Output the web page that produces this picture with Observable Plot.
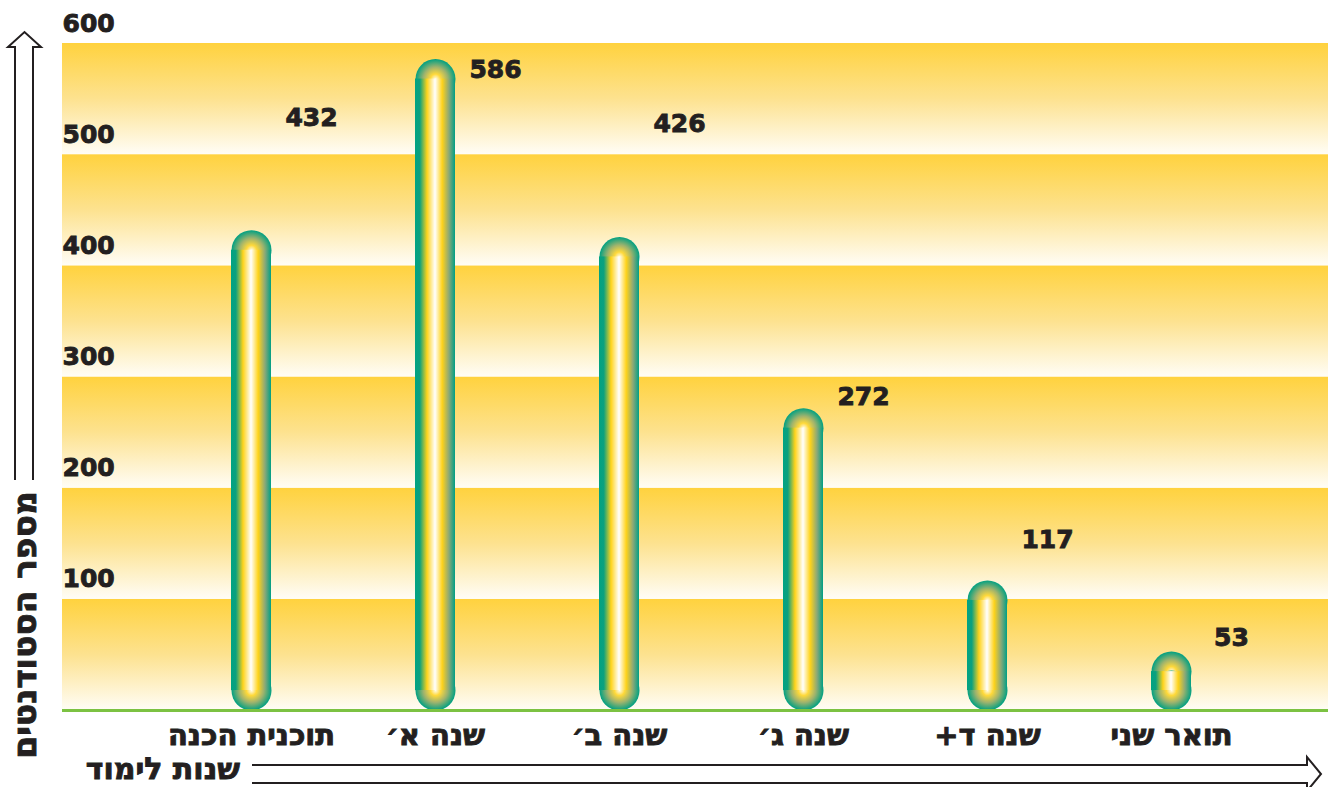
<!DOCTYPE html>
<html><head><meta charset="utf-8">
<script src="https://cdn.jsdelivr.net/npm/d3@7"></script>
<script src="https://cdn.jsdelivr.net/npm/@observablehq/plot@0.6"></script>
<style>
html,body{margin:0;padding:0;background:#fff;}
#chart svg{display:block;}
#chart svg text{stroke:#231f20;stroke-width:0.9px;}
g[aria-label="x-axis tick label"] text{direction:rtl;}
</style></head><body><div id="chart"></div>
<script>
// ---- data ----
const categories = ["תוכנית הכנה", "שנה א׳", "שנה ב׳", "שנה ג׳", "שנה ד+", "תואר שני"];
const students = [432, 586, 426, 272, 117, 53];
// vertical level (in student units) at which each value label sits in the reference
const labelLevels = [533, 576, 528, 282, 153, 65];
const yTicks = [100, 200, 300, 400, 500, 600];
const bandStarts = [0, 100, 200, 300, 400, 500];
const bandSize = 100;
const yTitle = "מספר הסטודנטים";
const xTitle = "שנות לימוד";

const data = categories.map((c, i) => ({cat: c, value: students[i], level: labelLevels[i]}));
const ink = "#231f20";

const chart = Plot.plot({
  width: 1328, height: 787,
  marginLeft: 62, marginRight: 0, marginTop: 43, marginBottom: 77,
  style: {fontFamily: "'DejaVu Sans', sans-serif", fontWeight: "bold", color: ink, background: "#fff"},
  x: {type: "band", domain: categories, range: [158, 1263], paddingInner: 0.783, paddingOuter: 0.3915},
  y: {domain: [0, 600]},
  marks: [
    Plot.rect(bandStarts, {y1: d => d, y2: d => d + bandSize, fill: "url(#bandGrad)"}),
    Plot.dot(data, {x: "cat", y: "value", r: 20, dy: 20, fill: "url(#capGrad)"}),
    Plot.dot(data, {x: "cat", y: () => 0, r: 20, dy: -20, fill: "url(#capGrad)"}),
    Plot.barY(data, {x: "cat", y: "value", insetTop: 20, insetBottom: 20, fill: "url(#barGrad)"}),
    Plot.ruleY([0], {stroke: "#7cc242", strokeWidth: 3}),
    Plot.text(data, {x: "cat", y: "level", text: d => String(d.value), dx: 60, fontSize: 25, fontWeight: "bold", fill: ink, letterSpacing: 3}),
    Plot.axisY({ticks: yTicks, anchor: "left", tickSize: 0, textAnchor: "start", dx: 9, dy: -20, fontSize: 25, label: null, fill: ink, letterSpacing: 2}),
    Plot.axisX({anchor: "bottom", tickSize: 0, tickPadding: 14, fontSize: 29, label: null, fill: ink})
  ]
});

const svg = d3.select(chart);
const defs = svg.insert("defs", ":first-child");
function stops(g, list) { list.forEach(([o, c]) => g.append("stop").attr("offset", o).attr("stop-color", c)); }
stops(defs.append("linearGradient").attr("id", "bandGrad").attr("x1", 0).attr("y1", 0).attr("x2", 0).attr("y2", 1),
  [[0, "#ffd23e"], [0.5, "#fde28f"], [1, "#fffdf6"]]);
stops(defs.append("linearGradient").attr("id", "barGrad").attr("x1", 0).attr("y1", 0).attr("x2", 1).attr("y2", 0),
  [[0, "#00a383"], [0.12, "#0ca07e"], [0.3, "#ffd31a"], [0.5, "#ffffff"], [0.68, "#ffd31a"], [0.85, "#8aa878"], [1, "#009f85"]]);
stops(defs.append("radialGradient").attr("id", "capGrad").attr("cx", 0.5).attr("cy", 0.5).attr("r", 0.5),
  [[0, "#fffbe6"], [0.25, "#ffd93a"], [0.6, "#9fb36d"], [1, "#00a082"]]);

// decorations: axis arrows and titles
const deco = svg.append("g").attr("fill", "#fff").attr("stroke", ink).attr("stroke-width", 2).attr("stroke-linejoin", "miter");
deco.append("path").attr("d", "M15,480 L15,47 L8,47 L24.5,32 L41,47 L33,47 L33,480");
deco.append("path").attr("d", "M252,765 L1307,765 L1307,757 L1321,774 L1307,791 L1307,783 L252,783");
svg.append("text").text(yTitle)
  .attr("transform", "translate(24,625) rotate(-90)")
  .attr("text-anchor", "middle").attr("dy", "0.35em").attr("direction", "rtl")
  .attr("font-size", 33).attr("font-weight", "bold").attr("fill", ink);
svg.append("text").text(xTitle)
  .attr("x", 240).attr("y", 779)
  .attr("text-anchor", "end").attr("direction", "ltr")
  .attr("font-size", 30).attr("font-weight", "bold").attr("fill", ink);

document.getElementById("chart").appendChild(chart);
</script></body></html>
